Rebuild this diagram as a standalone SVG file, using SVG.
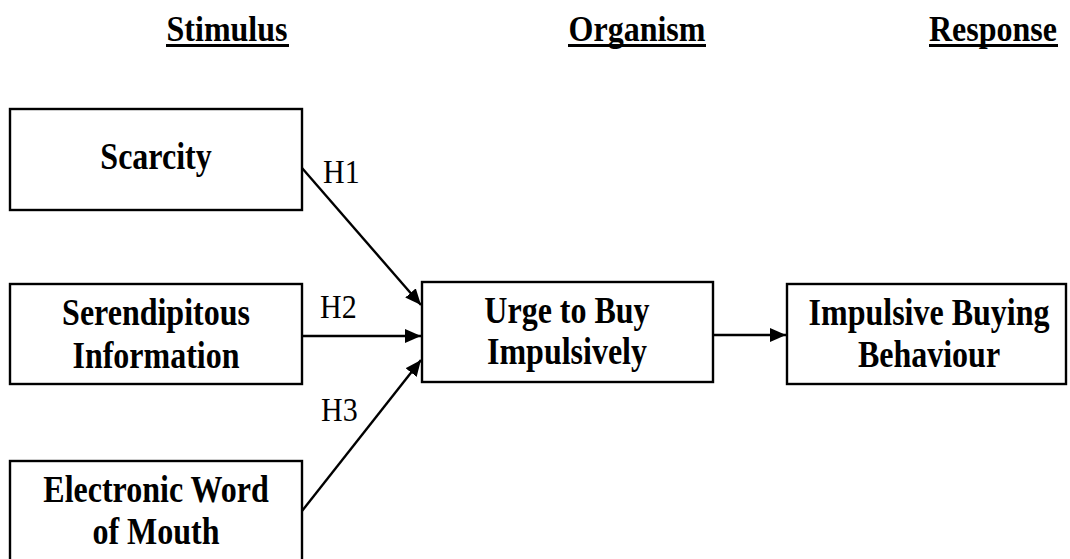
<svg xmlns="http://www.w3.org/2000/svg" width="1070" height="559" viewBox="0 0 1070 559">
<style>
  .box { fill: #fff; stroke: #000; stroke-width: 2.4; }
  .lbl { font-family: "Liberation Serif", "Times New Roman", serif; font-weight: bold; font-size: 32px; text-anchor: middle; fill: #000; }
  .hdr { font-family: "Liberation Serif", "Times New Roman", serif; font-weight: bold; font-size: 32px; text-anchor: middle; fill: #000; }
  .h { font-family: "Liberation Serif", "Times New Roman", serif; font-size: 30px; fill: #000; }
  .ul { stroke: #000; stroke-width: 3; }
  .conn { stroke: #000; stroke-width: 2.4; fill: none; marker-end: url(#arr); }
</style>
<defs>
  <marker id="arr" markerUnits="userSpaceOnUse" markerWidth="18" markerHeight="16" refX="16" refY="7" orient="auto">
    <path d="M0,0 L16,7 L0,14 Z" fill="#000"/>
  </marker>
</defs>
<rect width="1070" height="559" fill="#fff"/>
<g id="headers">
  <text class="hdr" transform="translate(227,41) scale(1,1.13)">Stimulus</text>
  <line class="ul" x1="166" y1="45.5" x2="289" y2="45.5"/>
  <text class="hdr" transform="translate(637,41) scale(1,1.13)">Organism</text>
  <line class="ul" x1="568" y1="45.5" x2="706" y2="45.5"/>
  <text class="hdr" transform="translate(993,41) scale(1,1.13)">Response</text>
  <line class="ul" x1="929" y1="45.5" x2="1058" y2="45.5"/>
</g>
<g id="scarcity">
  <rect class="box" x="10" y="109" width="292" height="101"/>
  <text class="lbl" transform="translate(156,169) scale(1,1.16)">Scarcity</text>
</g>
<g id="serendipitous">
  <rect class="box" x="10" y="284" width="292" height="100"/>
  <text class="lbl" transform="translate(156,325) scale(1,1.16)">Serendipitous</text>
  <text class="lbl" transform="translate(156,368) scale(1,1.16)">Information</text>
</g>
<g id="ewom">
  <rect class="box" x="10" y="461" width="292" height="110"/>
  <text class="lbl" transform="translate(156,502) scale(1,1.16)">Electronic Word</text>
  <text class="lbl" transform="translate(156,544) scale(1,1.16)">of Mouth</text>
</g>
<g id="urge">
  <rect class="box" x="422" y="282" width="291" height="100"/>
  <text class="lbl" transform="translate(567,323) scale(1,1.16)">Urge to Buy</text>
  <text class="lbl" transform="translate(567,364) scale(1,1.16)">Impulsively</text>
</g>
<g id="behaviour">
  <rect class="box" x="787" y="284" width="279" height="100"/>
  <text class="lbl" transform="translate(929,325) scale(1,1.16)">Impulsive Buying</text>
  <text class="lbl" transform="translate(929,367) scale(1,1.16)">Behaviour</text>
</g>
<g id="connectors">
  <line class="conn" x1="302" y1="168" x2="421" y2="305"/>
  <line class="conn" x1="302" y1="336" x2="421" y2="336"/>
  <line class="conn" x1="302" y1="511" x2="421" y2="360"/>
  <line class="conn" x1="713" y1="335" x2="786" y2="335"/>
  <text class="h" transform="translate(323,183) scale(1,1.1)">H1</text>
  <text class="h" transform="translate(320,318) scale(1,1.1)">H2</text>
  <text class="h" transform="translate(321,421) scale(1,1.1)">H3</text>
</g>
</svg>
